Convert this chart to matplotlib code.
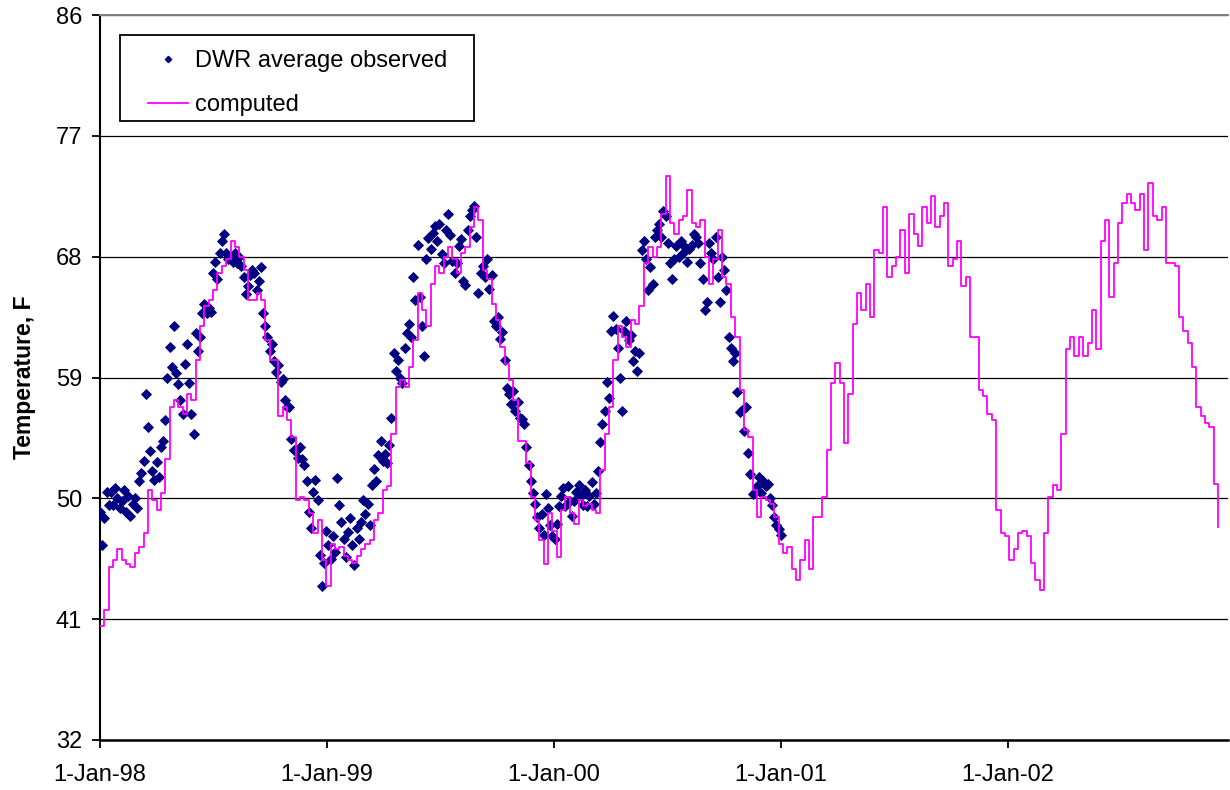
import numpy as np
import pandas as pd
import matplotlib
matplotlib.use("Agg")
import matplotlib.pyplot as plt
from matplotlib.lines import Line2D
from matplotlib.patches import Rectangle

# ---------------- data ----------------
start_date = "1998-01-01"
computed_step_days = 7.0      # computed series: one reading per week
observed_step_days = 3.5      # observed series: two readings per week

computed_values = [
    40.5, 41.7, 44.9, 45.4, 46.2, 45.4, 45.1, 44.9, 45.9, 46.4,
    47.4, 50.6, 49.9, 49.1, 50.4, 52.9, 56.8, 57.3, 56.8, 56.3,
    57.8, 57.3, 60.3, 62.8, 64.3, 64.8, 65.5, 66.8, 67.3, 67.8,
    69.2, 68.7, 68.0, 67.0, 64.8, 64.8, 65.3, 64.8, 61.8, 60.3,
    60.3, 56.1, 56.8, 55.8, 54.6, 49.9, 50.1, 49.9, 48.9, 47.4,
    48.4, 45.4, 43.5, 46.6, 46.2, 46.4, 45.7, 45.4, 45.2, 45.7,
    46.2, 46.6, 46.9, 48.4, 48.9, 50.6, 50.9, 54.8, 58.3, 58.8,
    58.3, 59.8, 61.8, 65.3, 64.0, 62.8, 66.0, 67.3, 66.8, 68.0,
    68.7, 67.8, 66.8, 68.3, 68.7, 70.2, 71.7, 70.7, 67.0, 66.3,
    64.5, 63.3, 61.3, 60.0, 58.8, 57.3, 54.3, 54.3, 52.6, 50.1,
    48.4, 46.9, 45.1, 48.9, 47.6, 45.6, 49.1, 50.1, 48.9, 48.1,
    49.9, 49.4, 49.6, 49.1, 48.9, 52.1, 54.8, 56.8, 60.3, 62.8,
    62.0, 61.3, 63.3, 63.0, 64.3, 67.5, 68.7, 68.0, 68.7, 71.2,
    74.0, 70.5, 69.7, 70.7, 71.0, 73.0, 70.5, 70.2, 70.7, 68.0,
    66.0, 67.8, 70.0, 66.5, 66.0, 63.5, 62.0, 58.1, 55.1, 54.6,
    50.6, 48.6, 50.1, 49.9, 49.6, 48.6, 46.6, 45.9, 46.4, 44.7,
    43.9, 45.4, 46.9, 44.7, 48.6, 48.6, 50.1, 53.6, 58.6, 60.1,
    58.6, 54.1, 57.8, 63.0, 65.3, 64.0, 66.0, 63.5, 68.5, 68.3,
    71.7, 66.5, 67.3, 68.0, 70.0, 66.8, 71.2, 69.7, 68.8, 71.7,
    70.5, 72.5, 70.2, 71.0, 72.0, 67.3, 67.8, 69.2, 65.8, 66.5,
    62.0, 62.0, 58.1, 57.6, 56.3, 55.8, 49.1, 47.4, 47.2, 45.4,
    46.2, 47.4, 47.6, 47.2, 45.2, 43.9, 43.2, 47.4, 50.1, 51.0,
    50.6, 54.8, 61.1, 62.0, 60.6, 62.0, 60.6, 61.6, 64.0, 61.1,
    69.2, 70.7, 65.0, 67.5, 70.5, 72.0, 72.7, 72.0, 71.5, 72.7,
    68.5, 73.5, 71.0, 70.7, 71.7, 67.5, 67.5, 67.3, 63.5, 62.5,
    61.6, 59.8, 56.8, 56.1, 55.6, 55.3, 51.1, 47.9,
]

observed_values = [
    49.0, 46.5, 48.5, 50.5, 49.5, 50.5, 49.5, 50.8, 50.0, 49.3,
    49.8, 50.6, 49.0, 50.2, 48.7, 49.6, 50.0, 49.3, 51.3, 51.9,
    52.8, 57.8, 55.3, 53.5, 52.0, 51.4, 52.7, 51.6, 53.8, 54.3,
    55.8, 59.0, 61.3, 59.8, 62.8, 59.3, 58.5, 57.3, 56.3, 60.0,
    61.5, 58.6, 56.3, 54.8, 62.3, 61.0, 62.0, 63.8, 64.5, 63.8,
    64.2, 63.9, 66.8, 67.6, 66.3, 68.3, 69.2, 69.7, 68.3, 67.8,
    68.0, 67.6, 68.3, 67.5, 68.0, 67.3, 66.5, 65.2, 65.8, 66.6,
    67.0, 66.8, 65.5, 66.2, 67.2, 63.8, 62.8, 62.0, 61.0, 61.5,
    60.2, 59.4, 59.9, 58.7, 58.9, 57.3, 56.8, 56.8, 54.4, 53.6,
    53.5, 53.0, 53.8, 52.9, 52.5, 51.3, 49.0, 47.8, 50.5, 51.4,
    49.9, 45.8, 43.5, 45.2, 47.6, 46.5, 45.5, 47.2, 46.0, 51.5,
    49.5, 48.2, 47.0, 45.6, 47.5, 48.5, 46.5, 45.0, 47.8, 47.0,
    48.2, 49.9, 48.8, 49.6, 48.0, 51.0, 52.2, 51.3, 53.2, 54.3,
    52.8, 53.3, 52.6, 54.0, 56.0, 60.8, 59.5, 60.3, 59.0, 58.6,
    61.2, 62.3, 63.0, 62.0, 66.5, 64.8, 68.9, 65.0, 62.8, 60.6,
    67.8, 69.4, 68.6, 69.8, 70.3, 69.2, 70.4, 68.2, 67.5, 70.0,
    71.2, 69.6, 67.7, 66.8, 67.5, 68.8, 69.3, 66.2, 65.9, 70.0,
    71.0, 71.5, 71.8, 69.5, 65.3, 66.8, 67.3, 66.5, 67.8, 65.6,
    66.6, 63.2, 62.8, 63.5, 61.9, 62.4, 60.3, 58.2, 57.8, 57.0,
    58.0, 56.5, 57.2, 56.0, 55.9, 55.5, 53.8, 52.5, 51.3, 50.4,
    49.6, 48.6, 47.8, 48.8, 47.3, 50.3, 49.3, 48.0, 47.2, 47.0,
    48.1, 49.4, 50.2, 50.8, 49.4, 50.9, 49.8, 48.7, 49.8, 50.5,
    51.0, 50.2, 49.5, 50.6, 49.4, 50.2, 51.2, 49.6, 50.4, 52.0,
    54.2, 55.5, 56.5, 58.7, 57.5, 62.5, 63.6, 62.6, 61.2, 59.0,
    56.5, 62.5, 63.2, 61.8, 62.2, 60.2, 61.0, 59.5, 60.8, 68.5,
    69.2, 67.8, 65.5, 67.2, 66.0, 69.5, 70.0, 70.4, 69.5, 71.4,
    71.0, 69.0, 67.5, 66.3, 67.8, 68.8, 68.0, 69.2, 68.3, 68.7,
    67.6, 68.6, 68.9, 69.7, 69.5, 69.0, 67.5, 66.3, 64.0, 64.6,
    69.0, 68.3, 67.8, 69.5, 66.5, 64.6, 68.0, 67.0, 65.5, 62.0,
    61.2, 60.2, 60.8, 57.9, 56.4, 56.6, 55.0, 56.8, 53.4, 51.8,
    50.3, 50.5, 50.9, 51.6, 50.4, 51.3, 50.9, 51.1, 50.0, 49.5,
    48.6, 48.0, 47.7, 47.3,
]

y_ticks = [32, 41, 50, 59, 68, 77, 86]
x_tick_years = [1998, 1999, 2000, 2001, 2002]
axis_days = 1815
series_labels = ["DWR average observed", "computed"]
y_label = "Temperature, F"

# ---------------- build dates ----------------
t0 = pd.Timestamp(start_date)
computed_dates = t0 + pd.to_timedelta(np.arange(len(computed_values)) * computed_step_days, unit="D")
observed_dates = t0 + pd.to_timedelta(np.arange(len(observed_values)) * observed_step_days, unit="D")

# ---------------- figure ----------------
plt.rcParams["font.family"] = ["Liberation Sans", "DejaVu Sans"]
W, H = 1230, 790
fig = plt.figure(figsize=(W / 100, H / 100), dpi=100)
ax = fig.add_axes([100 / W, 1 - 740 / H, 1128 / W, 725 / H])

navy = "#000080"
magenta = "#FF00FF"

ax.plot(observed_dates, observed_values, linestyle="none", marker="D",
        markersize=4.6, markerfacecolor=navy, markeredgecolor=navy,
        markeredgewidth=0.6, zorder=3)
ax.plot(computed_dates, computed_values, drawstyle="steps-post",
        color=magenta, linewidth=1.3, zorder=4)

ax.set_ylim(32, 86)
ax.set_yticks(y_ticks)
ax.set_xlim(t0, t0 + pd.Timedelta(days=axis_days))
xt = [pd.Timestamp(f"{y}-01-01") for y in x_tick_years]
ax.set_xticks(xt)
ax.set_xticklabels([f"{d.day}-{d.strftime('%b-%y')}" for d in xt])

ax.grid(axis="y", color="black", linewidth=0.9, zorder=1)
ax.set_axisbelow(True)

ax.spines["right"].set_visible(False)
ax.spines["top"].set_color("#808080")
ax.spines["top"].set_linewidth(1.4)
ax.spines["left"].set_linewidth(1.5)
ax.spines["bottom"].set_linewidth(1.8)

ax.tick_params(axis="y", direction="out", length=6, width=1.3, pad=7,
               labelsize=17, colors="black")
ax.tick_params(axis="x", direction="out", length=6, width=1.3, pad=11,
               labelsize=17, colors="black")

ax.set_ylabel(y_label, fontsize=16.5, fontweight="bold")
ax.yaxis.set_label_coords(-0.057, 0.5)

# legend frame (figure pixel box 120..474 x 35..121)
frame = Rectangle((120 / W, 1 - 121 / H), 354 / W, 86 / H,
                  transform=fig.transFigure, facecolor="white",
                  edgecolor="black", linewidth=1.3, zorder=5)
fig.patches.append(frame)

handles = [
    Line2D([], [], linestyle="none", marker="D", markersize=3.2,
           markerfacecolor=navy, markeredgecolor=navy),
    Line2D([], [], color=magenta, linewidth=1.3),
]
leg = fig.legend(handles, series_labels, loc="upper left",
                 bbox_to_anchor=(148 / W, 1 - 50 / H),
                 bbox_transform=fig.transFigure, fontsize=17,
                 frameon=False, borderpad=0, labelspacing=0.95,
                 handlelength=1.7, handletextpad=0.3, borderaxespad=0)
leg.set_zorder(6)

fig.savefig("out.png", dpi=100)
